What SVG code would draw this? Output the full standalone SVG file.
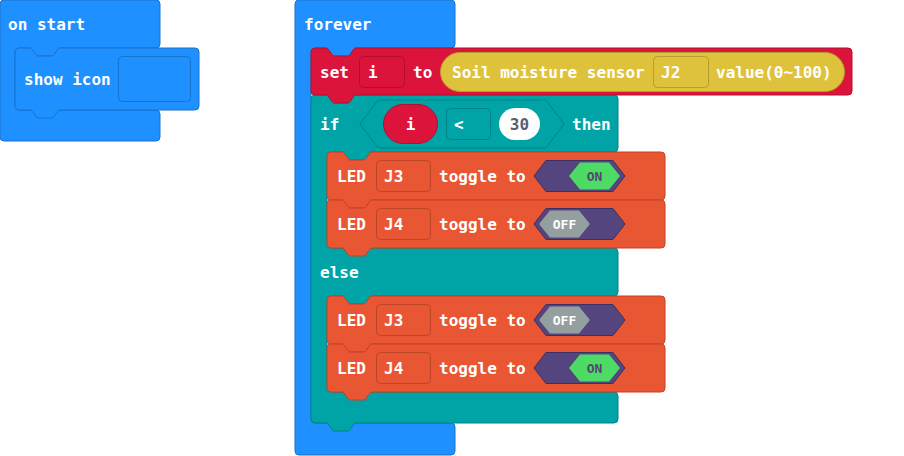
<svg xmlns="http://www.w3.org/2000/svg" xmlns:xlink="http://www.w3.org/1999/xlink" width="904" height="456" viewBox="0 0 904 456">
  <style>
    text { font-family: "DejaVu Sans Mono", "Liberation Mono", monospace; font-weight: bold; font-size: 16px; fill: #ffffff; }
    .blue { fill: #1E90FF; stroke: #1873CC; stroke-width: 1; }
    .red { fill: #DC143C; stroke: #B0102F; stroke-width: 1; }
    .yellow { fill: #DFC23B; stroke: #B59D30; stroke-width: 1; }
    .teal { fill: #00A4A6; stroke: #008385; stroke-width: 1; }
    .orange { fill: #E95633; stroke: #BE4428; stroke-width: 1; }
    .track { fill: #54457F; stroke: #3C2F62; stroke-width: 1; }
    .on { fill: #4EDB65; }
    .off { fill: #949FA0; }
    .knob { font-size: 13px; text-anchor: middle; }
    .knob-on { fill: #504A70; }
    .num { fill: #575E75; text-anchor: middle; }
  </style>
  <defs>
    <!-- statement block 338x48 with top notch and bottom tab -->
    <path id="led-shape" d="M0,4 a4,4 0 0 1 4,-4 H15 c1,0 1.6,0.4 2.2,1.2 l4,5.6 c0.6,0.8 1.2,1.2 2.2,1.2 h13.2 c1,0 1.6,-0.4 2.2,-1.2 l4,-5.6 c0.6,-0.8 1.2,-1.2 2.2,-1.2 H334 a4,4 0 0 1 4,4 V44 a4,4 0 0 1 -4,4 H45 c-1,0 -1.6,0.4 -2.2,1.2 l-4,5.6 c-0.6,0.8 -1.2,1.2 -2.2,1.2 h-13.2 c-1,0 -1.6,-0.4 -2.2,-1.2 l-4,-5.6 c-0.6,-0.8 -1.2,-1.2 -2.2,-1.2 H4 a4,4 0 0 1 -4,-4 z"/>
    <polygon id="track-shape" points="207,24 219,8.5 286,8.5 298,24 286,39.5 219,39.5"/>
    <polygon id="knob-right" points="242,24 253,10.5 282,10.5 293,24 282,37.5 253,37.5"/>
    <polygon id="knob-left" points="212,24 223,10.5 252,10.5 263,24 252,37.5 223,37.5"/>
  </defs>

  <!-- on start event -->
  <g id="on-start">
    <path class="blue" d="M0,4 a4,4 0 0 1 4,-4 H156 a4,4 0 0 1 4,4 V44 a4,4 0 0 1 -4,4 H60 c-1,0 -1.6,0.4 -2.2,1.2 l-4,5.6 c-0.6,0.8 -1.2,1.2 -2.2,1.2 h-13.2 c-1,0 -1.6,-0.4 -2.2,-1.2 l-4,-5.6 c-0.6,-0.8 -1.2,-1.2 -2.2,-1.2 H19 a4,4 0 0 0 -4,4 V106 a4,4 0 0 0 4,4 H156 a4,4 0 0 1 4,4 V137 a4,4 0 0 1 -4,4 H4 a4,4 0 0 1 -4,-4 z"/>
    <text x="8" y="30">on start</text>
  </g>

  <g id="show-icon">
    <path class="blue" d="M15,52 a4,4 0 0 1 4,-4 H30 c1,0 1.6,0.4 2.2,1.2 l4,5.6 c0.6,0.8 1.2,1.2 2.2,1.2 h13.2 c1,0 1.6,-0.4 2.2,-1.2 l4,-5.6 c0.6,-0.8 1.2,-1.2 2.2,-1.2 H195 a4,4 0 0 1 4,4 V106 a4,4 0 0 1 -4,4 H60 c-1,0 -1.6,0.4 -2.2,1.2 l-4,5.6 c-0.6,0.8 -1.2,1.2 -2.2,1.2 h-13.2 c-1,0 -1.6,-0.4 -2.2,-1.2 l-4,-5.6 c-0.6,-0.8 -1.2,-1.2 -2.2,-1.2 H19 a4,4 0 0 1 -4,-4 z"/>
    <text x="24" y="85">show icon</text>
    <rect class="blue" x="118.5" y="56.5" width="72" height="45" rx="4"/>
  </g>

  <!-- forever loop -->
  <g id="forever">
    <path class="blue" d="M295,4 a4,4 0 0 1 4,-4 H451 a4,4 0 0 1 4,4 V44 a4,4 0 0 1 -4,4 H356 c-1,0 -1.6,0.4 -2.2,1.2 l-4,5.6 c-0.6,0.8 -1.2,1.2 -2.2,1.2 h-13.2 c-1,0 -1.6,-0.4 -2.2,-1.2 l-4,-5.6 c-0.6,-0.8 -1.2,-1.2 -2.2,-1.2 H315 a4,4 0 0 0 -4,4 V419 a4,4 0 0 0 4,4 H451 a4,4 0 0 1 4,4 V451 a4,4 0 0 1 -4,4 H299 a4,4 0 0 1 -4,-4 z"/>
    <text x="304" y="30">forever</text>
  </g>

  <!-- if / else -->
  <g id="if-else">
    <path class="teal" d="M311,99 a4,4 0 0 1 4,-4 H326 c1,0 1.6,0.4 2.2,1.2 l4,5.6 c0.6,0.8 1.2,1.2 2.2,1.2 h13.2 c1,0 1.6,-0.4 2.2,-1.2 l4,-5.6 c0.6,-0.8 1.2,-1.2 2.2,-1.2 H614 a4,4 0 0 1 4,4 V148 a4,4 0 0 1 -4,4 H372 c-1,0 -1.6,0.4 -2.2,1.2 l-4,5.6 c-0.6,0.8 -1.2,1.2 -2.2,1.2 h-13.2 c-1,0 -1.6,-0.4 -2.2,-1.2 l-4,-5.6 c-0.6,-0.8 -1.2,-1.2 -2.2,-1.2 H331 a4,4 0 0 0 -4,4 V244 a4,4 0 0 0 4,4 H614 a4,4 0 0 1 4,4 V292 a4,4 0 0 1 -4,4 H372 c-1,0 -1.6,0.4 -2.2,1.2 l-4,5.6 c-0.6,0.8 -1.2,1.2 -2.2,1.2 h-13.2 c-1,0 -1.6,-0.4 -2.2,-1.2 l-4,-5.6 c-0.6,-0.8 -1.2,-1.2 -2.2,-1.2 H331 a4,4 0 0 0 -4,4 V388 a4,4 0 0 0 4,4 H614 a4,4 0 0 1 4,4 V419 a4,4 0 0 1 -4,4 H356 c-1,0 -1.6,0.4 -2.2,1.2 l-4,5.6 c-0.6,0.8 -1.2,1.2 -2.2,1.2 h-13.2 c-1,0 -1.6,-0.4 -2.2,-1.2 l-4,-5.6 c-0.6,-0.8 -1.2,-1.2 -2.2,-1.2 H315 a4,4 0 0 1 -4,-4 z"/>
    <text x="320" y="129.5">if</text>
    <polygon class="teal" points="360,124 378,100 546,100 564,124 546,148 378,148"/>
    <rect class="red" x="383.5" y="104.5" width="54" height="39" rx="19.5"/>
    <text x="410.5" y="129.5" text-anchor="middle">i</text>
    <rect class="teal" x="446.5" y="108.5" width="44" height="31" rx="4"/>
    <text x="454" y="129.5">&lt;</text>
    <rect x="499" y="108" width="41" height="32" rx="16" fill="#ffffff"/>
    <text class="num" x="519.5" y="129.5">30</text>
    <text x="572" y="129.5">then</text>
    <text x="320" y="278">else</text>
  </g>

  <!-- set i to soil moisture -->
  <g id="set-i">
    <path class="red" d="M311,52 a4,4 0 0 1 4,-4 H326 c1,0 1.6,0.4 2.2,1.2 l4,5.6 c0.6,0.8 1.2,1.2 2.2,1.2 h13.2 c1,0 1.6,-0.4 2.2,-1.2 l4,-5.6 c0.6,-0.8 1.2,-1.2 2.2,-1.2 H848 a4,4 0 0 1 4,4 V91 a4,4 0 0 1 -4,4 H356 c-1,0 -1.6,0.4 -2.2,1.2 l-4,5.6 c-0.6,0.8 -1.2,1.2 -2.2,1.2 h-13.2 c-1,0 -1.6,-0.4 -2.2,-1.2 l-4,-5.6 c-0.6,-0.8 -1.2,-1.2 -2.2,-1.2 H315 a4,4 0 0 1 -4,-4 z"/>
    <text x="320" y="77.5">set</text>
    <rect class="red" x="359.5" y="56.5" width="45" height="31" rx="4"/>
    <text x="368" y="77.5">i</text>
    <text x="413" y="77.5">to</text>
    <g id="soil-sensor">
      <rect class="yellow" x="440.5" y="52.5" width="404" height="39" rx="19.5"/>
      <text x="452" y="77.5">Soil moisture sensor</text>
      <rect class="yellow" x="653.5" y="56.5" width="55" height="31" rx="4"/>
      <text x="661" y="77.5">J2</text>
      <text x="716" y="77.5">value(0~100)</text>
    </g>
  </g>

  <!-- LED toggle statements -->
  <g id="led-j3-on" transform="translate(327,152)">
    <use xlink:href="#led-shape" class="orange"/>
    <text x="10" y="30">LED</text>
    <rect class="orange" x="49.5" y="8.5" width="54" height="31" rx="4"/>
    <text x="57" y="30">J3</text>
    <text x="112" y="30">toggle to</text>
    <use xlink:href="#track-shape" class="track"/>
    <use xlink:href="#knob-right" class="on"/>
    <text class="knob knob-on" x="267.5" y="28.7">ON</text>
  </g>

  <g id="led-j4-off" transform="translate(327,200)">
    <use xlink:href="#led-shape" class="orange"/>
    <text x="10" y="30">LED</text>
    <rect class="orange" x="49.5" y="8.5" width="54" height="31" rx="4"/>
    <text x="57" y="30">J4</text>
    <text x="112" y="30">toggle to</text>
    <use xlink:href="#track-shape" class="track"/>
    <use xlink:href="#knob-left" class="off"/>
    <text class="knob" x="237.5" y="28.7">OFF</text>
  </g>

  <g id="led-j3-off" transform="translate(327,296)">
    <use xlink:href="#led-shape" class="orange"/>
    <text x="10" y="30">LED</text>
    <rect class="orange" x="49.5" y="8.5" width="54" height="31" rx="4"/>
    <text x="57" y="30">J3</text>
    <text x="112" y="30">toggle to</text>
    <use xlink:href="#track-shape" class="track"/>
    <use xlink:href="#knob-left" class="off"/>
    <text class="knob" x="237.5" y="28.7">OFF</text>
  </g>

  <g id="led-j4-on" transform="translate(327,344)">
    <use xlink:href="#led-shape" class="orange"/>
    <text x="10" y="30">LED</text>
    <rect class="orange" x="49.5" y="8.5" width="54" height="31" rx="4"/>
    <text x="57" y="30">J4</text>
    <text x="112" y="30">toggle to</text>
    <use xlink:href="#track-shape" class="track"/>
    <use xlink:href="#knob-right" class="on"/>
    <text class="knob knob-on" x="267.5" y="28.7">ON</text>
  </g>

  <g id="connectors"></g>
</svg>
